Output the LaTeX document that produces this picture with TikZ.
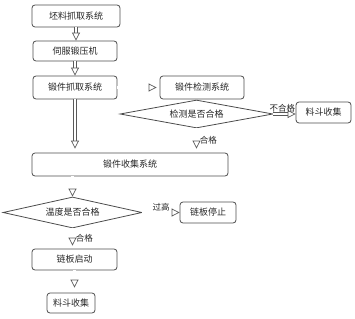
\documentclass[tikz,border=0pt]{standalone}
\usepackage{fontspec}
\newfontfamily\cjk{Noto Sans CJK SC}
\usetikzlibrary{arrows.meta,shapes.geometric}

\begin{document}
\begin{tikzpicture}[
  x=1pt, y=-1pt,
  font=\cjk\fontsize{9}{11}\selectfont,
  stage/.style={
    rounded corners=3pt, draw=black!70, line width=0.8pt, align=center,
    inner sep=0pt, minimum height=21pt, text=black!85
  },
  decision/.style={diamond, draw=black!70, line width=0.8pt, inner sep=0pt,
    aspect=5.4, text=black!85},
  flow/.style={draw=black!65, double=white, double distance=2.2pt, line width=0.7pt,
    -{Triangle[open, length=8pt, width=8pt]}},
  flowback/.style={flow, {Triangle[open, length=8pt, width=8pt]}-},
  lbl/.style={font=\cjk\fontsize{8.5}{10}\selectfont, text=black!85, inner sep=1pt}
]
\useasboundingbox (0,0) rectangle (355,318);

% ---- upper line: blanks, press, grabbing ----
\node[stage, minimum width=88pt, minimum height=22pt] (blank) at (76,16) {坯料抓取系统};
\node[stage, minimum width=84pt, minimum height=20pt] (press) at (75,51) {伺服锻压机};
\node[stage, minimum width=84pt, minimum height=23pt] (grab) at (75,87.5) {锻件抓取系统};

% ---- inspection branch ----
\node[stage, minimum width=84pt, minimum height=23pt] (inspect) at (202,87.5) {锻件检测系统};
\node[decision, minimum width=153pt, minimum height=28pt] (check) at (196.5,114) {检测是否合格};
\node[stage, minimum width=55pt] (bin) at (323.5,112.5) {料斗收集};

% ---- collection and temperature ----
\node[stage, minimum width=196pt, minimum height=23pt] (collect) at (130,164.5) {锻件收集系统};
\node[decision, minimum width=139pt, minimum height=31pt] (temp) at (72.5,212.5) {温度是否合格};
\node[stage, minimum width=56pt] (stop) at (208,212.5) {链板停止};
\node[stage, minimum width=85pt] (start) at (74.5,259.5) {链板启动};
\node[stage, minimum width=48pt, minimum height=20pt] (bin2) at (71,303) {料斗收集};

% ---- hollow arrows ----
\draw[flow] (blank.south) -- (blank.south |- press.north);
\draw[flow] (press.south) -- (press.south |- grab.north);
\draw[flow, shorten >=3pt] (grab.east) -- (inspect.west);
\draw[flow, shorten >=4pt] (grab.south) -- (grab.south |- collect.north);
\draw[flow] (check.east) -- node[lbl, above, pos=0.4] (nglbl) {不合格} (check.east -| bin.west);
\draw[flow, shorten >=4pt] (check.south) -- node[lbl, right, xshift=2pt] (oklbl) {合格} (check.south |- collect.north);
\draw[flowback] (temp.north) -- (temp.north |- collect.south);
\draw[flow] (temp.east) -- node[lbl, above] (hotlbl) {过高} (stop.west);
\draw[flow, shorten >=3pt] (temp.south) -- node[lbl, right, xshift=2pt] (oklbl2) {合格} (temp.south |- start.north);
\draw[flow, shorten >=5pt] (start.south) -- (start.south |- bin2.north);

\end{tikzpicture}
\end{document}
